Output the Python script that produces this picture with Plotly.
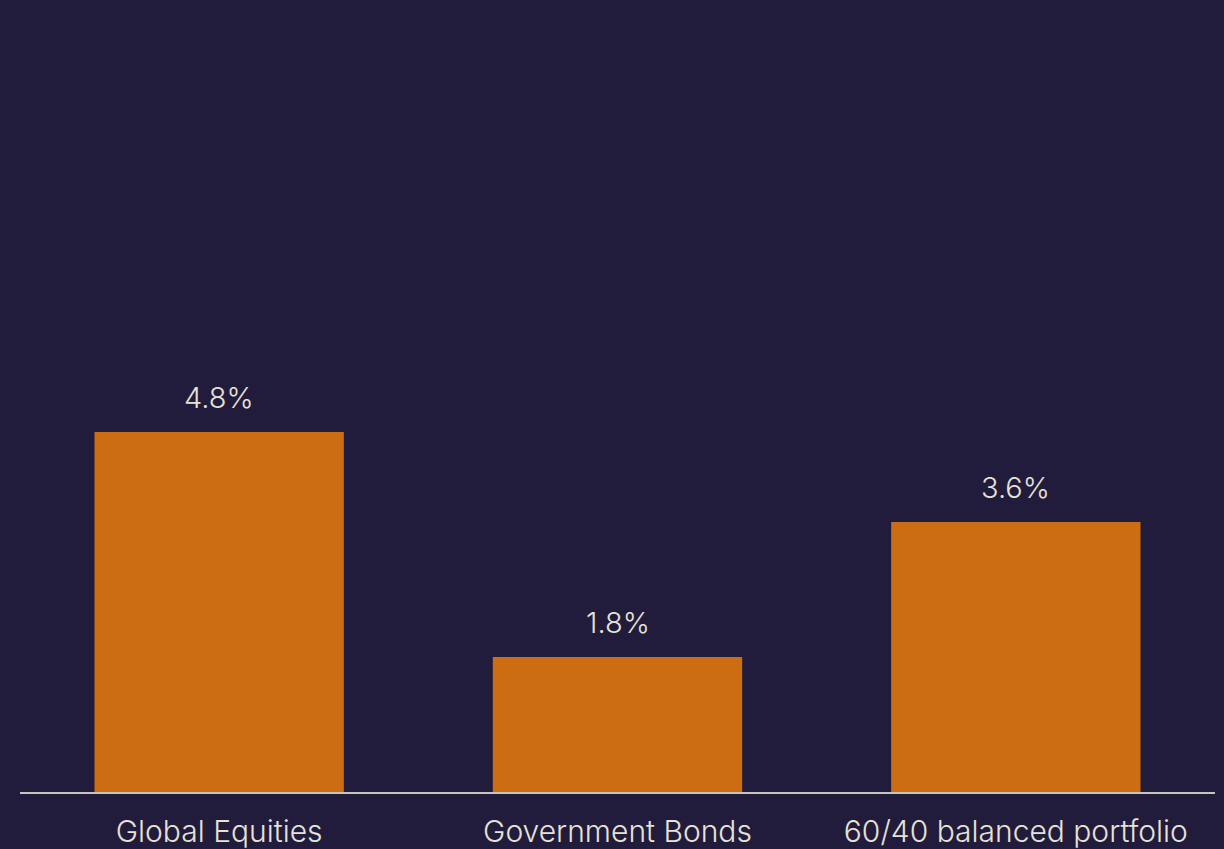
import plotly.graph_objects as go

categories = ["Global Equities", "Government Bonds", "60/40 balanced portfolio"]
values = [4.8, 1.8, 3.6]
value_labels = ["4.8%", "1.8%", "3.6%"]

BG = "#221c3c"
BAR = "#cd6d13"
TXT = "#e6e2d6"
FONT = "Inter"

fig = go.Figure()
fig.add_trace(go.Bar(x=categories, y=values, marker=dict(color=BAR, line=dict(width=0)),
                     hoverinfo="skip"))

for c, v, t in zip(categories, values, value_labels):
    fig.add_annotation(x=c, y=v, text=t, showarrow=False, yanchor="bottom", yshift=15,
                       font=dict(family=FONT, size=29, color=TXT, weight=300))

fig.update_layout(
    width=1224, height=849,
    paper_bgcolor=BG, plot_bgcolor=BG,
    margin=dict(l=20, r=9, t=0, b=57),
    bargap=0.374,
    showlegend=False,
    xaxis=dict(showline=True, linecolor="#c9c5ba", linewidth=1.5, showgrid=False,
               ticks="", ticklabelstandoff=12, automargin=False,
               tickfont=dict(family=FONT, size=30, color=TXT, weight=300)),
    yaxis=dict(range=[0, 10.56], showgrid=False, zeroline=False, showticklabels=False,
               showline=False, automargin=False),
)

fig.write_html("out.html")
